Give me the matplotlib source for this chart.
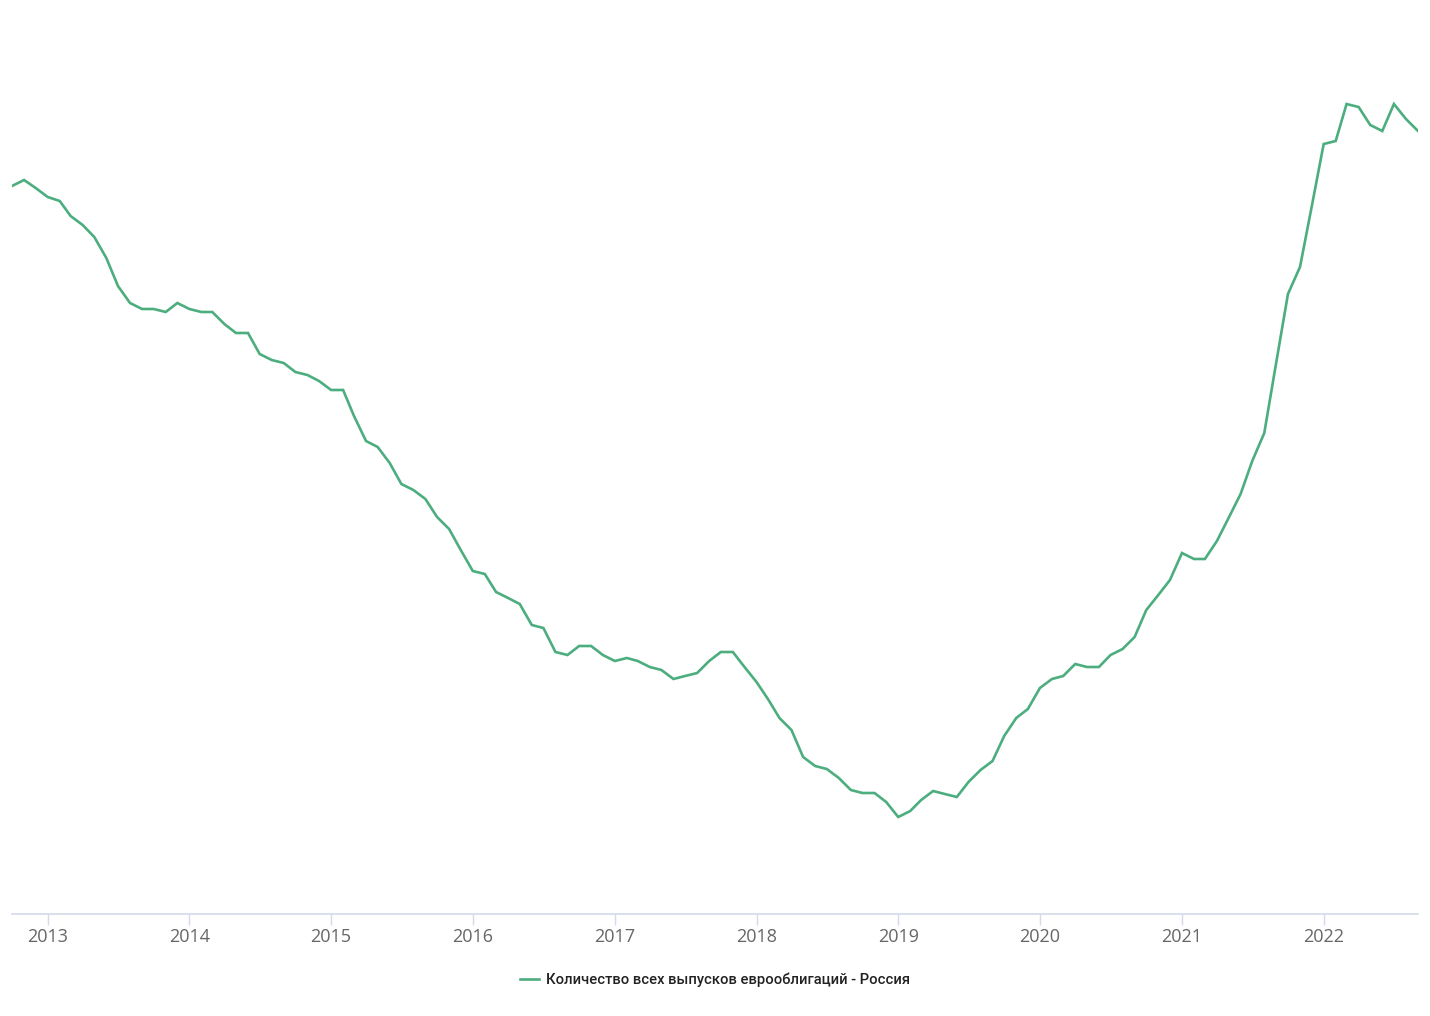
import numpy as np
import pandas as pd
import matplotlib
matplotlib.use('Agg')
import matplotlib.pyplot as plt

# monthly series, Oct 2012 .. Sep 2022 (arbitrary units)
start_month = '2012-10-01'
values = [
    728, 734, 726, 717, 713, 698, 689, 677, 656, 628, 611, 605,   # Oct12 - Sep13
    605, 602, 611, 605, 602, 602, 590, 581, 581, 560, 554, 551,   # Oct13 - Sep14
    542, 539, 533, 524, 524, 498, 473, 467, 451, 430, 424, 415,   # Oct14 - Sep15
    397, 385, 364, 343, 340, 322, 316, 310, 289, 286, 262, 259,   # Oct15 - Sep16
    268, 268, 259, 253, 256, 253, 247, 244, 235, 238, 241, 253,   # Oct16 - Sep17
    262, 262, 247, 232, 214, 196, 184, 157, 148, 145, 136, 124,   # Oct17 - Sep18
    121, 121, 112, 97, 103, 114, 123, 120, 117, 132, 144, 153,    # Oct18 - Sep19
    178, 196, 205, 226, 235, 238, 250, 247, 247, 259, 265, 277,   # Oct19 - Sep20
    304, 319, 334, 361, 355, 355, 373, 396, 420, 453, 481, 552,   # Oct20 - Sep21
    620, 647, 707, 770, 773, 810, 807, 789, 783, 810, 795, 783,   # Oct21 - Sep22
]
series_label = 'Количество всех выпусков еврооблигаций - Россия'
year_ticks = list(range(2013, 2023))

dates = pd.date_range(start_month, periods=len(values), freq='MS')
df = pd.DataFrame({'date': dates, 'value': values})

line_color = '#4cad7e'
axis_color = '#d3dae8'

fig = plt.figure(figsize=(14.30, 10.16), dpi=100)
ax = fig.add_axes([12 / 1430, 1 - 914 / 1016, 1406 / 1430, 914 / 1016])

ax.plot(df['date'], df['value'], color=line_color, linewidth=1.9,
        solid_joinstyle='miter', label=series_label)

ax.set_xlim(df['date'].iloc[0], df['date'].iloc[-1])
ax.set_ylim(0, 914)

tick_pos = [pd.Timestamp(f'{y}-01-01') for y in year_ticks]
ax.set_xticks(tick_pos)
ax.set_xticklabels([str(y) for y in year_ticks], fontsize=13, color='#666666',
                   family=['Open Sans', 'DejaVu Sans'])
ax.tick_params(axis='x', length=8, width=1, color=axis_color, pad=2)
ax.set_yticks([])

for side in ['top', 'right', 'left']:
    ax.spines[side].set_visible(False)
ax.spines['bottom'].set_color(axis_color)
ax.spines['bottom'].set_linewidth(1.2)

leg = fig.legend(loc='center', bbox_to_anchor=(0.5, 1 - 980 / 1016), frameon=False,
                 handlelength=1.3, handletextpad=0.5,
                 prop={'family': 'Roboto', 'size': 10.6, 'weight': 'medium'})
for t in leg.get_texts():
    t.set_color('#222222')

fig.savefig('out.png', dpi=100, facecolor='white')
